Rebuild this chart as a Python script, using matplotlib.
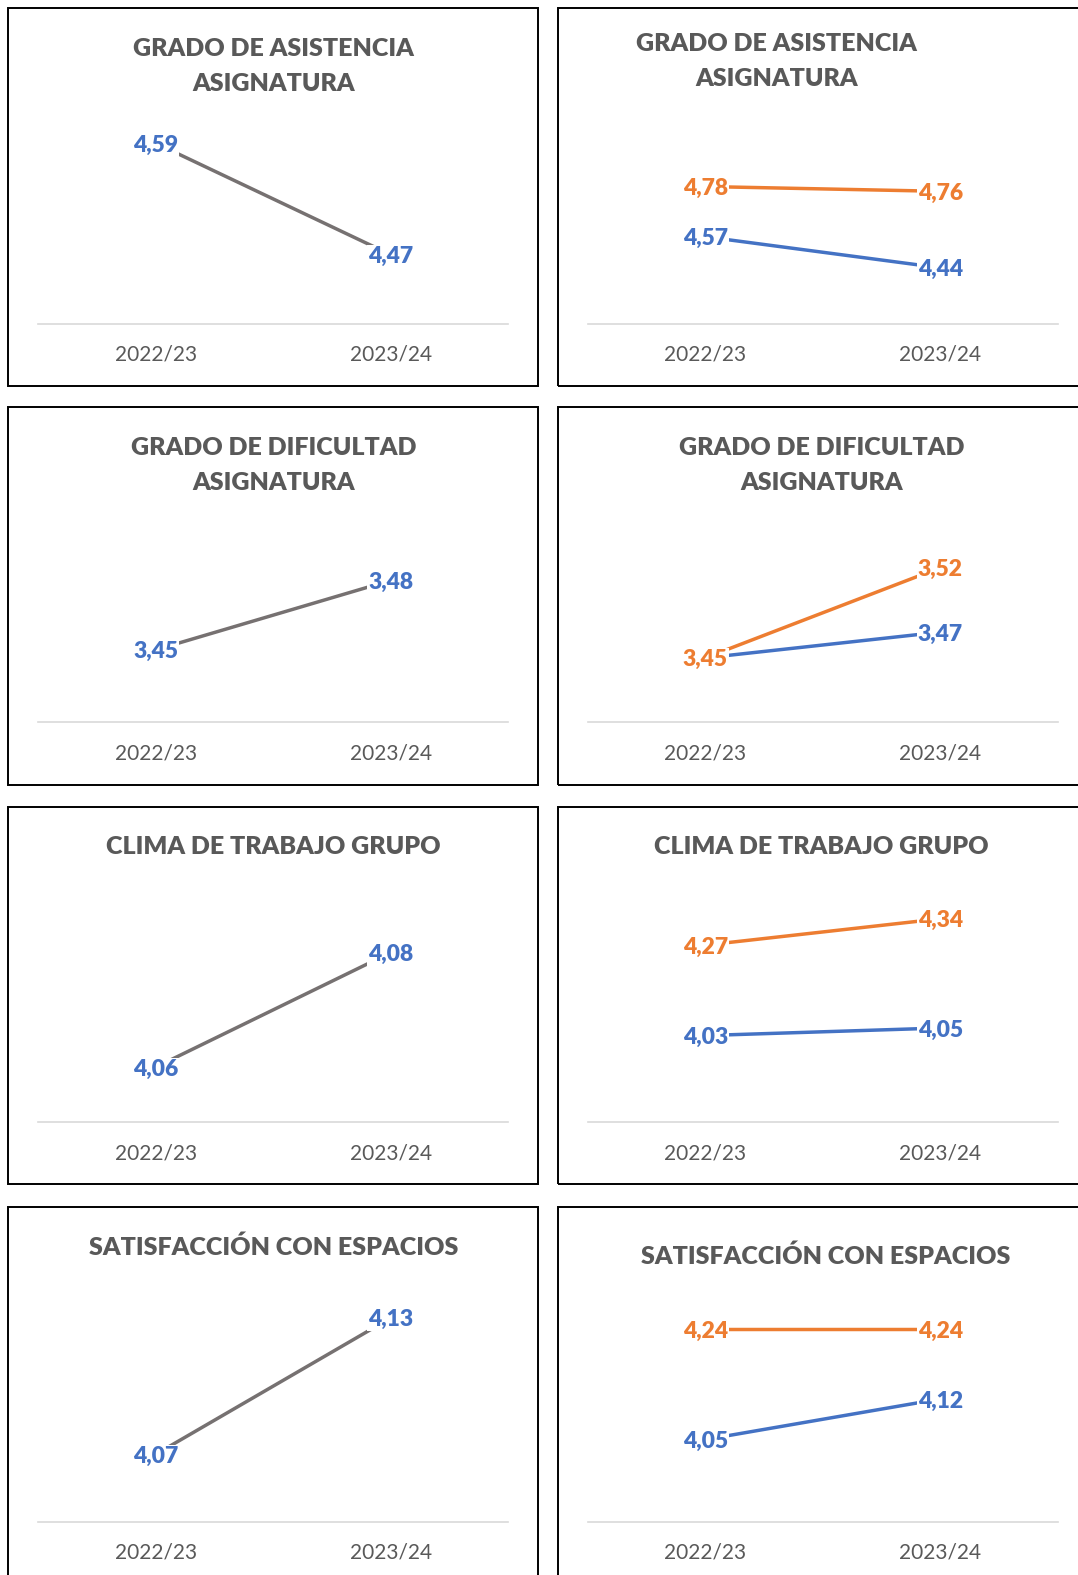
import matplotlib
matplotlib.use("Agg")
import matplotlib.pyplot as plt
from matplotlib.patches import Rectangle

plt.rcParams['font.family'] = ['Lato', 'DejaVu Sans']

years = ['2022/23', '2023/24']

# left column: one series per chart
asistencia = [4.59, 4.47]
dificultad = [3.45, 3.48]
clima = [4.06, 4.08]
espacios = [4.07, 4.13]

# right column: two series per chart (blue / orange)
asistencia_azul = [4.57, 4.44]
asistencia_naranja = [4.78, 4.76]
dificultad_azul = [3.45, 3.47]
dificultad_naranja = [3.45, 3.52]
clima_azul = [4.03, 4.05]
clima_naranja = [4.27, 4.34]
espacios_azul = [4.05, 4.12]
espacios_naranja = [4.24, 4.24]

titles = ['GRADO DE ASISTENCIA\nASIGNATURA',
          'GRADO DE DIFICULTAD\nASIGNATURA',
          'CLIMA DE TRABAJO GRUPO',
          'SATISFACCIÓN CON ESPACIOS']

GRAY = '#767171'
BLUE = '#4472C4'
ORANGE = '#ED7D31'
TEXT = '#595959'

W, H = 1078, 1575
S = 1078 / 1073  # layout measured on the 1073 px wide preview

fig = plt.figure(figsize=(W / 100, H / 100), dpi=100)


def fx(x):
    return x * S / W


def fy(y):
    return 1 - y * S / H


row_off = [0, 397, 795, 1193]
col_off = [0, 547]

# value range shown on each axis (plot area from y=100 to y=322 inside a panel)
ylims_left = [(4.396, 4.636), (3.4187, 3.515), (4.0504, 4.0893), (4.0402, 4.1383)]
ylims_right = [(4.207, 5.14), (3.400, 3.573), (3.80, 4.392), (3.908, 4.292)]

title_y_left = [66, 66, 48, 48]
title_y_right = [61.5, 66, 48, 57]
title_x_right = [773, 818, 818, 822]


def draw_labels(ax, values, color):
    for i, v in enumerate(values):
        ax.text(i, v, f'{v:.2f}'.replace('.', ','), color=color, fontsize=16.5,
                fontweight='heavy', ha='center', va='center_baseline', zorder=4,
                bbox=dict(fc='white', ec='none', pad=0.6))


def make_panel(col, row, series, ylim, title, title_x, title_y):
    xo, yo = col_off[col], row_off[row]
    # outer border of the chart
    fig.patches.append(Rectangle((fx(8 + xo), fy(384 + yo)), fx(528 + (30 if col else 0)),
                                 fy(8 + yo) - fy(384 + yo), transform=fig.transFigure,
                                 fill=False, ec='black', lw=1.4, zorder=0))
    ax = fig.add_axes([fx(38 + xo), fy(322 + yo), fx(468), fy(100) - fy(322)])
    for vals, color, lcolor in series:
        ax.plot(range(len(vals)), vals, color=lcolor, lw=2.5, zorder=2,
                solid_capstyle='butt')
    for vals, color, lcolor in series:
        draw_labels(ax, vals, color)
    ax.set_xlim(-0.5, 1.5)
    ax.set_ylim(*ylim)
    ax.set_xticks(range(len(years)))
    ax.set_xticklabels(years, fontsize=15, color=TEXT)
    ax.tick_params(axis='x', length=0, pad=15)
    ax.set_yticks([])
    for side in ['top', 'left', 'right']:
        ax.spines[side].set_visible(False)
    ax.spines['bottom'].set_color('#d9d9d9')
    ax.spines['bottom'].set_linewidth(1.2)
    ax.patch.set_alpha(0)
    fig.text(fx(title_x), fy(title_y + yo), title, ha='center', va='center',
             fontsize=18, fontweight='heavy', color=TEXT, linespacing=1.72)


left_data = [asistencia, dificultad, clima, espacios]
right_data = [(asistencia_azul, asistencia_naranja), (dificultad_azul, dificultad_naranja),
              (clima_azul, clima_naranja), (espacios_azul, espacios_naranja)]

for r in range(4):
    make_panel(0, r, [(left_data[r], BLUE, GRAY)], ylims_left[r], titles[r], 272, title_y_left[r])
    azul, naranja = right_data[r]
    make_panel(1, r, [(azul, BLUE, BLUE), (naranja, ORANGE, ORANGE)], ylims_right[r],
               titles[r], title_x_right[r], title_y_right[r])

fig.savefig('out.png', dpi=100)
